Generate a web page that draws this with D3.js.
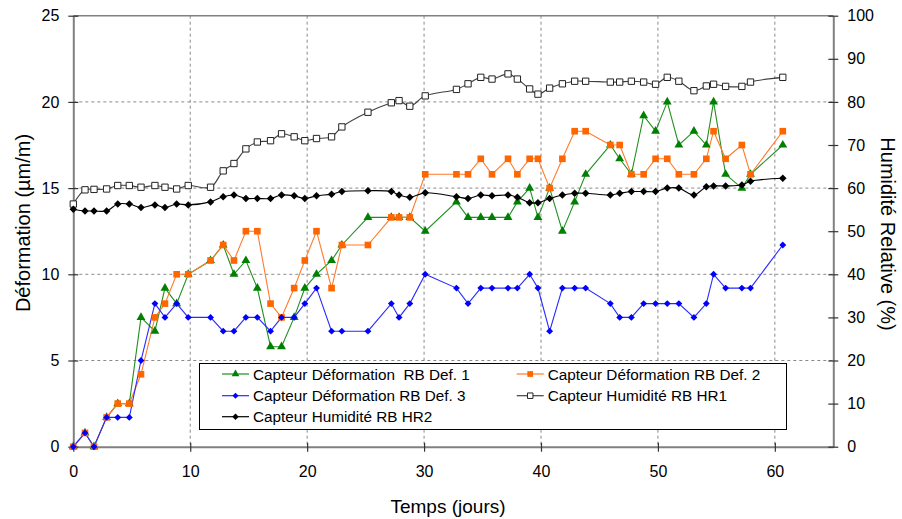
<!DOCTYPE html>
<html><head><meta charset="utf-8">
<script src="https://cdn.jsdelivr.net/npm/d3@7"></script>
<style>body{margin:0;background:#fff}text{font-family:"Liberation Sans",Arial,sans-serif;fill:#000}</style>
</head><body><svg id="c" width="902" height="519"></svg>
<script>
const days = [0,1.0,1.77,2.85,3.8,4.79,5.79,6.98,7.84,8.84,9.83,11.74,12.82,13.74,14.76,15.74,16.87,17.81,18.89,19.8,20.8,22.09,22.97,25.2,27.2,27.86,28.78,30.1,32.77,33.76,34.85,35.81,37.18,37.98,39.03,39.74,40.74,41.83,42.88,43.82,45.93,46.73,47.73,48.78,49.8,50.8,51.79,53.08,54.14,54.76,55.79,57.18,57.92,60.68];
const def1 = [0,0.8,0,1.7,2.5,2.5,7.5,6.7,9.2,8.3, 10.0,10.8,11.7,10.0,10.8,9.2,5.8,5.8,7.5,9.2, 10.0,10.8,11.7,13.3,13.3,13.3,13.3,12.5,14.2,13.3, 13.3,13.3,13.3,14.2,15.0,13.3,15.0,12.5,14.2,15.8, 17.5,16.7,15.8,19.2,18.3,20.0,17.5,18.3,17.5,20.0, 15.8,15.0,15.8,17.5];
const def2 = [0,0.8,0,1.7,2.5,2.5,4.2,7.5,8.3,10.0, 10.0,10.8,11.7,10.8,12.5,12.5,8.3,7.5,9.2,10.8, 12.5,9.2,11.7,11.7,13.3,13.3,13.3,15.8,15.8,15.8, 16.7,15.8,16.7,15.8,16.7,16.7,15.0,16.7,18.3,18.3, 17.5,17.5,15.8,15.8,16.7,16.7,15.8,15.8,16.7,18.3, 16.7,17.5,15.8,18.3];
const def3 = [0,0.8,0,1.7,1.7,1.7,5.0,8.3,7.5,8.3, 7.5,7.5,6.7,6.7,7.5,7.5,6.7,7.5,7.5,8.3, 9.2,6.7,6.7,6.7,8.3,7.5,8.3,10.0,9.2,8.3, 9.2,9.2,9.2,9.2,10.0,9.2,6.7,9.2,9.2,9.2, 8.3,7.5,7.5,8.3,8.3,8.3,8.3,7.5,8.3,10.0, 9.2,9.2,9.2,11.7];
const hr1 = [56.3,59.6,59.7,59.8,60.6,60.6,60.2,60.6,60.2,59.8, 60.6,60.2,64.0,65.7,69.1,70.7,71.0,72.6,71.9,71.0, 71.5,71.9,74.2,77.6,79.8,80.3,79.0,81.4,82.9,84.2, 85.7,85.3,86.5,85.3,83.0,81.8,83.2,84.2,84.8,84.8, 84.6,84.6,84.8,84.6,84.1,85.7,84.8,82.6,83.7,84.1, 83.6,83.6,84.6,85.7];
const hr2 = [55.1,54.7,54.7,54.7,56.3,56.3,55.5,56.1,55.5,56.3, 56.1,56.8,58.0,58.4,57.6,57.6,57.6,58.4,58.2,57.6, 58.2,58.6,59.2,59.4,59.2,58.4,57.9,58.9,58.0,57.6, 58.4,58.2,58.4,57.9,56.6,56.6,57.6,58.4,58.8,58.8, 58.4,58.8,59.2,59.2,59.2,60.0,60.0,58.4,60.3,60.5, 60.5,60.7,61.6,62.3];
const xTicks = [0,10,20,30,40,50,60];
const yLTicks = [0,5,10,15,20,25];
const yRTicks = [0,10,20,30,40,50,60,70,80,90,100];
const legendLabels = ["Capteur Déformation  RB Def. 1","Capteur Déformation RB Def. 2","Capteur Déformation RB Def. 3","Capteur Humidité RB HR1","Capteur Humidité RB HR2"];
const xTitle = "Temps (jours)", yLTitle = "Déformation (µm/m)", yRTitle = "Humidité Relative (%)";

const svg = d3.select("#c");
const L = 73.3, R = 833.3, T = 15.7, B = 446.7;
const x = d3.scaleLinear().domain([0,65]).range([L,R]);
const yL = d3.scaleLinear().domain([0,25]).range([B,T]);
const yR = d3.scaleLinear().domain([0,100]).range([B,T]);

// grid
const g = svg.append("g");
g.selectAll(".vg").data(xTicks.filter(d=>d>0)).join("line")
  .attr("x1",d=>x(d)).attr("x2",d=>x(d)).attr("y1",T).attr("y2",B)
  .attr("stroke","#8a8a8a").attr("stroke-dasharray","3,3").attr("stroke-width",1);
g.selectAll(".hg").data(yLTicks.filter(d=>d>0&&d<25)).join("line")
  .attr("x1",L).attr("x2",R).attr("y1",d=>yL(d)).attr("y2",d=>yL(d))
  .attr("stroke","#8a8a8a").attr("stroke-dasharray","3,3").attr("stroke-width",1);
svg.append("line").attr("x1",L).attr("x2",R).attr("y1",T).attr("y2",T).attr("stroke","#808080").attr("stroke-width",1.5);

function styleAxis(sel){
  sel.select(".domain").attr("stroke","#808080").attr("stroke-width",2);
  sel.selectAll(".tick line").attr("stroke","#333").attr("stroke-width",1.2);
  sel.selectAll(".tick text").attr("font-size",16).attr("fill","#000").style("font-family",'"Liberation Sans",Arial,sans-serif');
}
const ax = svg.append("g").attr("transform",`translate(0,${B})`)
  .call(d3.axisBottom(x).tickValues(xTicks).tickSize(5).tickSizeOuter(0).tickPadding(14));
ax.selectAll(".tick line").attr("y1",-4);
styleAxis(ax);
const al = svg.append("g").attr("transform",`translate(${L},0)`)
  .call(d3.axisLeft(yL).tickValues(yLTicks).tickSize(5).tickSizeOuter(0).tickPadding(9));
al.selectAll(".tick line").attr("x1",5);
styleAxis(al);
const ar = svg.append("g").attr("transform",`translate(${R},0)`)
  .call(d3.axisRight(yR).tickValues(yRTicks).tickSize(5).tickSizeOuter(0).tickPadding(9));
ar.selectAll(".tick line").attr("x1",-5);
styleAxis(ar);

// titles
svg.append("text").attr("x",448).attr("y",513).attr("text-anchor","middle").attr("font-size",19).text(xTitle);
svg.append("text").attr("transform",`translate(30,223) rotate(-90)`).attr("text-anchor","middle").attr("font-size",20).text(yLTitle);
svg.append("text").attr("transform",`translate(881,234) rotate(90)`).attr("text-anchor","middle").attr("font-size",20).text(yRTitle);

const series = [
  {vals:def1, y:yL, line:"#1f8f1f", fill:"#008000", stroke:"none", sym:d3.symbolTriangle, size:34, curve:d3.curveLinear},
  {vals:def2, y:yL, line:"#ff7a2a", fill:"#ff6600", stroke:"none", sym:d3.symbolSquare, size:44, curve:d3.curveLinear},
  {vals:def3, y:yL, line:"#2a2aff", fill:"#0000ff", stroke:"none", sym:d3.symbolDiamond2, size:30, curve:d3.curveLinear},
  {vals:hr1, y:yR, line:"#404040", fill:"#fff", stroke:"#222", sym:d3.symbolSquare, size:40, curve:d3.curveCatmullRom.alpha(0.5)},
  {vals:hr2, y:yR, line:"#000", fill:"#000", stroke:"none", sym:d3.symbolDiamond2, size:36, curve:d3.curveCatmullRom.alpha(0.5)}
];
series.forEach(s=>{
  const pts = days.map((d,i)=>[d,s.vals[i]]);
  svg.append("path").datum(pts).attr("fill","none").attr("stroke",s.line).attr("stroke-width",1.1)
    .attr("d",d3.line().x(p=>x(p[0])).y(p=>s.y(p[1])).curve(s.curve));
});
series.forEach(s=>{
  const pts = days.map((d,i)=>[d,s.vals[i]]);
  svg.append("g").selectAll("path").data(pts).join("path")
    .attr("transform",p=>`translate(${x(p[0])},${s.y(p[1])})`)
    .attr("d",d3.symbol(s.sym,s.size)).attr("fill",s.fill).attr("stroke",s.stroke).attr("stroke-width",1);
});

// legend
const lg = svg.append("g");
lg.append("rect").attr("x",199.5).attr("y",363.5).attr("width",587).attr("height",66).attr("fill","#fff").attr("stroke","#000").attr("stroke-width",1);
const pos = [[222,374],[516.7,374],[222,395.7],[516.7,395.7],[222,416.7]];
series.forEach((s,i)=>{
  const [lx,ly] = pos[i];
  lg.append("line").attr("x1",lx).attr("x2",lx+27).attr("y1",ly).attr("y2",ly).attr("stroke",s.line).attr("stroke-width",1.2);
  lg.append("path").attr("transform",`translate(${lx+13.5},${ly})`).attr("d",d3.symbol(s.sym,s.size*0.75)).attr("fill",s.fill).attr("stroke",s.stroke);
  lg.append("text").attr("x",lx+31).attr("y",ly+5.5).attr("font-size",15.3).style("white-space","pre").text(legendLabels[i]);
});
</script></body></html>
